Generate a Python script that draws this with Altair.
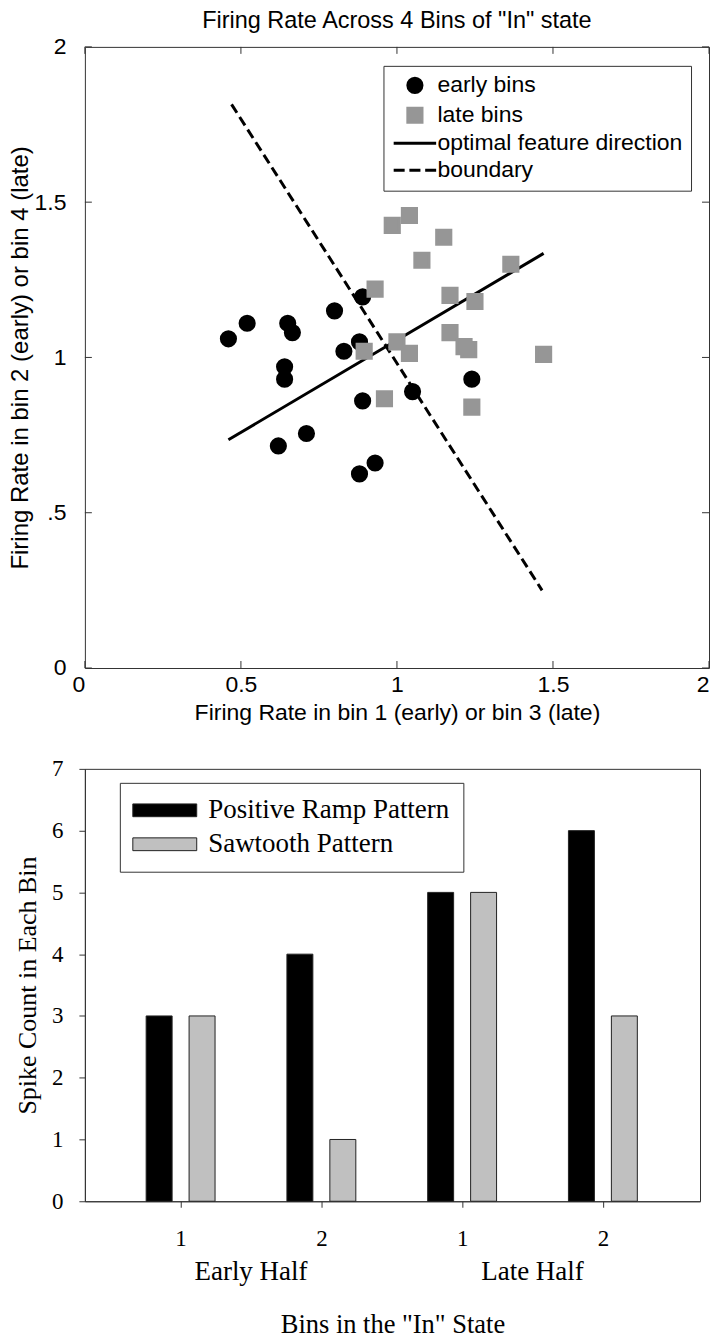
import json
import altair as alt
import pandas as pd

# ---------------- top panel data ----------------
series_names = ["early bins", "late bins", "optimal feature direction", "boundary"]
early_x = [0.46, 0.52, 0.65, 0.665, 0.64, 0.64, 0.80, 0.89, 0.83, 0.88, 0.89, 1.05, 1.24, 0.71, 0.62, 0.93, 0.88]
early_y = [1.06, 1.11, 1.11, 1.08, 0.97, 0.93, 1.15, 1.195, 1.02, 1.05, 0.86, 0.89, 0.93, 0.755, 0.715, 0.66, 0.625]
late_x = [0.985, 1.04, 1.15, 1.08, 1.365, 0.93, 1.17, 1.25, 1.17, 1.215, 1.23, 1.00, 1.04, 0.895, 1.47, 0.96, 1.24]
late_y = [1.425, 1.457, 1.387, 1.313, 1.30, 1.22, 1.20, 1.18, 1.08, 1.035, 1.025, 1.05, 1.013, 1.02, 1.01, 0.867, 0.84]
direction_x = [0.46, 1.47]
direction_y = [0.735, 1.335]
boundary_x = [0.47, 1.465]
boundary_y = [1.815, 0.25]
top_ticks = [0, 0.5, 1, 1.5, 2]
top_title = 'Firing Rate Across 4 Bins of "In" state'
top_xtitle = "Firing Rate in bin 1 (early) or bin 3 (late)"
top_ytitle = "Firing Rate in bin 2 (early) or bin 4 (late)"

# ---------------- bottom panel data ----------------
bin_pos = [1, 2, 3, 4]
bin_labels = ["1", "2", "1", "2"]
ramp_counts = [3, 4, 5, 6]
saw_counts = [3, 1, 5, 3]
pattern_names = ["Positive Ramp Pattern", "Sawtooth Pattern"]
group_names = ["Early Half", "Late Half"]
group_pos = [1.5, 3.5]
bottom_xtitle = 'Bins in the "In" State'
bottom_ytitle = "Spike Count in Each Bin"
count_ticks = [0, 1, 2, 3, 4, 5, 6, 7]

SANS = "Liberation Sans"
SERIF = "Liberation Serif"
GRAY_SQ = "#969696"
GRAY_BAR = "#c0c0c0"
EDGE = "#333333"

# ================= top chart =================
TW, TH = 625, 622
pts = pd.DataFrame({
    "x": early_x + late_x,
    "y": early_y + late_y,
    "series": [series_names[0]] * len(early_x) + [series_names[1]] * len(late_x),
})
dir_df = pd.DataFrame({"x": direction_x, "y": direction_y})
bnd_df = pd.DataFrame({"x": boundary_x, "y": boundary_y})
tick_df = pd.DataFrame({"x": top_ticks, "y": top_ticks})

xscale_t = alt.Scale(domain=[0, 2], nice=False, zero=False)
yscale_t = alt.Scale(domain=[0, 2], nice=False, zero=False)
xaxis_t = alt.Axis(values=top_ticks, ticks=False, domain=False, grid=False, format="~g",
                   labelAlign=alt.ExprRef("datum.value == 0 || datum.value == 2 ? 'right' : 'center'"),
                   labelFont=SANS, labelFontSize=23, labelPadding=6, labelColor="black",
                   titleFont=SANS, titleFontSize=23, titleFontWeight="normal", titlePadding=5,
                   titleColor="black", labelFlush=False, labelOverlap=False)
yaxis_t = alt.Axis(values=top_ticks, ticks=False, domain=False, grid=False, format="~g",
                   labelExpr="datum.value == 0.5 ? '.5' : datum.label",
                   labelFont=SANS, labelFontSize=23, labelPadding=19, labelColor="black",
                   titleFont=SANS, titleFontSize=24, titleFontWeight="normal", titlePadding=1,
                   titleColor="black", labelFlush=False, labelOverlap=False)


def TX(f="x"):
    return alt.X(f + ":Q", scale=xscale_t, axis=xaxis_t, title=top_xtitle)


def TY(f="y"):
    return alt.Y(f + ":Q", scale=yscale_t, axis=yaxis_t, title=top_ytitle)


line_path = "M-3,0H3"
dash_path = "M-3,0H-1.45M-0.78,0H0.78M1.45,0H3"
top_legend = alt.Legend(orient="none", legendX=299, legendY=19, title=None,
                        strokeColor=EDGE, fillColor="white", padding=8,
                        symbolSize=201, symbolStrokeWidth=3, symbolOffset=12,
                        labelFont=SANS, labelFontSize=23, labelOffset=11, labelColor="black",
                        labelLimit=0, rowPadding=3)
shape_scale = alt.Scale(domain=series_names, range=["circle", "square", line_path, dash_path])
fill_scale = alt.Scale(domain=series_names, range=["black", GRAY_SQ, "black", "black"])

points = alt.Chart(pts).mark_point(filled=True, size=201, strokeWidth=3, opacity=1).encode(
    x=TX(), y=TY(),
    shape=alt.Shape("series:N", scale=shape_scale, legend=top_legend),
    fill=alt.Fill("series:N", scale=fill_scale, legend=top_legend),
    stroke=alt.Stroke("series:N", scale=fill_scale, legend=top_legend),
)
dir_line = alt.Chart(dir_df).mark_line(color="black", strokeWidth=3).encode(x=TX(), y=TY())
bnd_line = alt.Chart(bnd_df).mark_line(color="black", strokeWidth=3, strokeDash=[10, 5]).encode(x=TX(), y=TY())

tk = 7
xt_bot = alt.Chart(tick_df).mark_rule(color=EDGE).encode(x=TX(), y=alt.value(TH), y2=alt.value(TH - tk))
xt_top = alt.Chart(tick_df).mark_rule(color=EDGE).encode(x=TX(), y=alt.value(0), y2=alt.value(tk))
yt_left = alt.Chart(tick_df).mark_rule(color=EDGE).encode(y=TY(), x=alt.value(0), x2=alt.value(tk))
yt_right = alt.Chart(tick_df).mark_rule(color=EDGE).encode(y=TY(), x=alt.value(TW - tk), x2=alt.value(TW))

top = alt.layer(xt_bot, xt_top, yt_left, yt_right, bnd_line, dir_line, points).properties(
    width=TW, height=TH,
    title=alt.Title(top_title, font=SANS, fontSize=23.5, fontWeight="normal", color="black", offset=3),
)

# ================= bottom chart =================
BW, BH = 616, 433
bars = pd.DataFrame({
    "pos": bin_pos + bin_pos,
    "count": ramp_counts + saw_counts,
    "pattern": [pattern_names[0]] * 4 + [pattern_names[1]] * 4,
})
groups = pd.DataFrame({"pos": group_pos, "group": group_names})

xscale_b = alt.Scale(domain=[0.32, 4.69], nice=False, zero=False, padding=0)
yscale_b = alt.Scale(domain=[0, 7], nice=False)
xaxis_b = alt.Axis(values=bin_pos, labelExpr=json.dumps(bin_labels) + "[datum.value - 1]",
                   grid=False, domainColor=EDGE, tickColor=EDGE, tickSize=6,
                   labelFont=SERIF, labelFontSize=23, labelPadding=20, labelColor="black",
                   titleFont=SERIF, titleFontSize=26.5, titleFontWeight="normal", titlePadding=61,
                   titleColor="black", labelFlush=False)
yaxis_b = alt.Axis(values=count_ticks, grid=False, domainColor=EDGE, tickColor=EDGE, tickSize=6,
                   labelFont=SERIF, labelFontSize=23, labelPadding=16, labelColor="black",
                   titleFont=SERIF, titleFontSize=26, titleFontWeight="normal", titlePadding=11,
                   titleColor="black", labelFlush=False)


def BX():
    return alt.X("pos:Q", scale=xscale_b, axis=xaxis_b, title=bottom_xtitle)


def BY():
    return alt.Y("count:Q", scale=yscale_b, axis=yaxis_b, title=bottom_ytitle)


rect_path = "M-4,-0.8H4V0.8H-4Z"
bottom_legend = alt.Legend(orient="none", legendX=35, legendY=14, title=None,
                           strokeColor=EDGE, fillColor="white", padding=14,
                           symbolType=rect_path, symbolSize=256, symbolStrokeColor="#222222",
                           symbolStrokeWidth=1, symbolOffset=17.5,
                           labelFont=SERIF, labelFontSize=27, labelOffset=30, labelColor="black",
                           labelLimit=0, rowPadding=6)
pat_scale = alt.Scale(domain=pattern_names, range=["black", GRAY_BAR])

ramp_bars = alt.Chart(bars).transform_filter(
    alt.datum.pattern == pattern_names[0]
).mark_bar(orient="vertical", width=26, xOffset=-21.5, stroke="#222222", strokeWidth=1).encode(
    x=BX(), y=BY(), fill=alt.Fill("pattern:N", scale=pat_scale, legend=bottom_legend))
saw_bars = alt.Chart(bars).transform_filter(
    alt.datum.pattern == pattern_names[1]
).mark_bar(orient="vertical", width=26, xOffset=21.5, stroke="#222222", strokeWidth=1).encode(
    x=BX(), y=BY(), fill=alt.Fill("pattern:N", scale=pat_scale, legend=bottom_legend))
group_text = alt.Chart(groups).mark_text(font=SERIF, fontSize=27, baseline="middle", color="black").encode(
    x=BX(), y=alt.value(BH + 71), text="group:N")

bottom = alt.layer(ramp_bars, saw_bars, group_text).properties(width=BW, height=BH)

chart = alt.vconcat(top, bottom, spacing=101, bounds="flush").resolve_scale(
    fill="independent", stroke="independent", shape="independent"
).resolve_legend(
    fill="independent", stroke="independent", shape="independent"
).configure(
    padding={"left": 8, "top": 8, "right": 0, "bottom": 0},
    background="white",
).configure_view(stroke=EDGE, strokeWidth=1)

chart.save("out.html", embed_options={"renderer": "svg", "actions": False})
